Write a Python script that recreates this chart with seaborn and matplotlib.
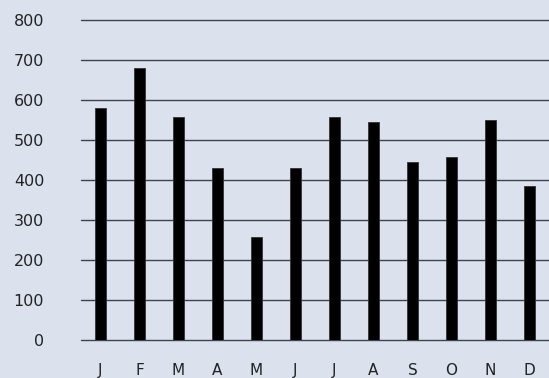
import matplotlib
matplotlib.use("Agg")
import matplotlib.pyplot as plt
import seaborn as sns
import pandas as pd

months = ["J", "F", "M", "A", "M", "J", "J", "A", "S", "O", "N", "D"]
values = [580, 680, 558, 430, 257, 430, 558, 544, 444, 457, 551, 386]
yticks = [0, 100, 200, 300, 400, 500, 600, 700, 800]

bg = "#dbe2ee"
sns.set_theme(style="white")
plt.rcParams["font.family"] = ["DejaVu Sans"]

df = pd.DataFrame({"idx": list(range(len(months))), "value": values})

fig = plt.figure(figsize=(5.49, 3.78), dpi=100, facecolor=bg)
ax = fig.add_axes([81 / 549, 1 - 340 / 378, 1 - 81 / 549, 320 / 378])
ax.set_facecolor(bg)

sns.barplot(data=df, x="idx", y="value", color="black", width=0.3,
            saturation=1, edgecolor="#333333", linewidth=0.6, ax=ax, zorder=3)

ax.set_ylim(0, 800)
ax.set_xlim(-0.5, len(months) - 0.5)
ax.set_yticks(yticks)
ax.set_yticklabels([str(t) for t in yticks], fontsize=11.5, color="#222222")
ax.set_xticks(range(len(months)))
ax.set_xticklabels(months, fontsize=11, color="#222222")
ax.tick_params(axis="y", length=0, pad=26.5)
ax.tick_params(axis="x", length=0, pad=16.5)
ax.yaxis.grid(True, color="#3d4450", linewidth=1.0, zorder=0)
for gl in ax.get_ygridlines():
    gl.set_clip_on(False)
ax.set_axisbelow(True)
ax.set_xlabel("")
ax.set_ylabel("")
for s in ax.spines.values():
    s.set_visible(False)

fig.savefig("out.png", dpi=100, facecolor=bg)
